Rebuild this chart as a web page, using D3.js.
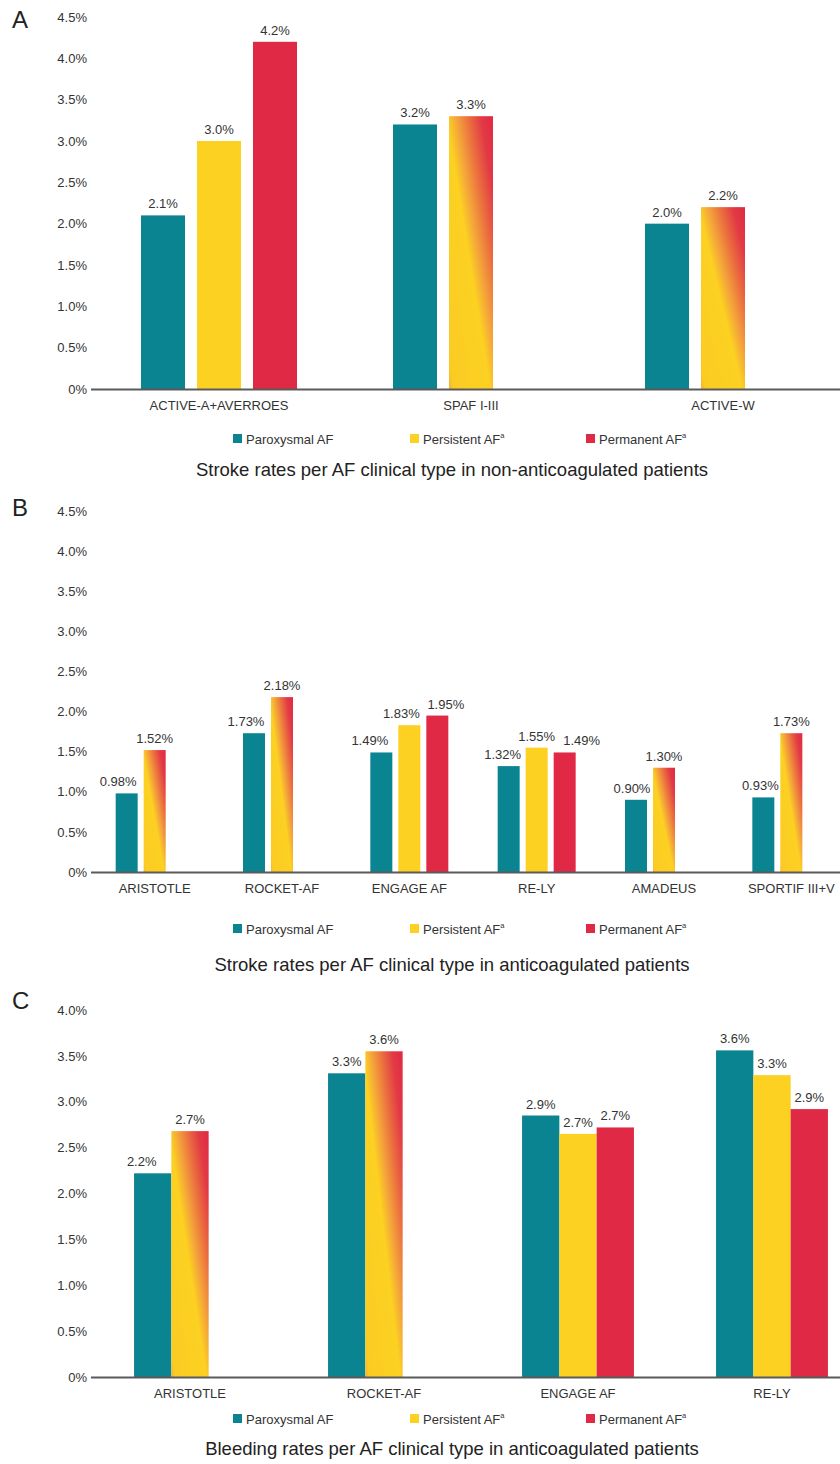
<!DOCTYPE html>
<html>
<head>
<meta charset="utf-8">
<script src="https://cdn.jsdelivr.net/npm/d3@7"></script>
<style>
  html, body { margin: 0; padding: 0; background: #fff; }
  svg { display: block; }
  text { font-family: "Liberation Sans", Arial, Helvetica, sans-serif; fill: #333; }
</style>
</head>
<body>
<svg id="chart" width="840" height="1464"></svg>
<script>
// ---------------- DATA ----------------
// Panel A: stroke rates, non-anticoagulated
const categoriesA = ["ACTIVE-A+AVERROES", "SPAF I-III", "ACTIVE-W"];
const paroxysmalA = [2.1, 3.2, 2.0];
const persistentA = [3.0, null, null];
const permanentA  = [4.2, null, null];
const combinedA   = [null, 3.3, 2.2];   // persistent + permanent (non-paroxysmal)
const ticksA = [0, 0.5, 1.0, 1.5, 2.0, 2.5, 3.0, 3.5, 4.0, 4.5];

// Panel B: stroke rates, anticoagulated
const categoriesB = ["ARISTOTLE", "ROCKET-AF", "ENGAGE AF", "RE-LY", "AMADEUS", "SPORTIF III+V"];
const paroxysmalB = [0.98, 1.73, 1.49, 1.32, 0.90, 0.93];
const persistentB = [null, null, 1.83, 1.55, null, null];
const permanentB  = [null, null, 1.95, 1.49, null, null];
const combinedB   = [1.52, 2.18, null, null, 1.30, 1.73];
const ticksB = [0, 0.5, 1.0, 1.5, 2.0, 2.5, 3.0, 3.5, 4.0, 4.5];

// Panel C: bleeding rates, anticoagulated
const categoriesC = ["ARISTOTLE", "ROCKET-AF", "ENGAGE AF", "RE-LY"];
const paroxysmalC = [2.22, 3.31, 2.85, 3.56];
const persistentC = [null, null, 2.65, 3.29];
const permanentC  = [null, null, 2.72, 2.92];
const combinedC   = [2.68, 3.55, null, null];
const paroxysmalLabelsC = ["2.2%", "3.3%", "2.9%", "3.6%"];
const persistentLabelsC = [null, null, "2.7%", "3.3%"];
const permanentLabelsC  = [null, null, "2.7%", "2.9%"];
const combinedLabelsC   = ["2.7%", "3.6%", null, null];
const ticksC = [0, 0.5, 1.0, 1.5, 2.0, 2.5, 3.0, 3.5, 4.0];

const legendNames = ["Paroxysmal AF", "Persistent AF", "Permanent AF"];
const titles = [
  "Stroke rates per AF clinical type in non-anticoagulated patients",
  "Stroke rates per AF clinical type in anticoagulated patients",
  "Bleeding rates per AF clinical type in anticoagulated patients"
];

// ---------------- STYLE / LAYOUT ----------------
const colors = { paroxysmal: "#0A8491", persistent: "#FCD122", permanent: "#E02944" };

const svg = d3.select("#chart");
const defs = svg.append("defs");
const grad = defs.append("linearGradient")
  .attr("id", "combo")
  .attr("x1", 0).attr("y1", 1).attr("x2", 1).attr("y2", 0);
[[0, "#F5AE33"], [0.05, "#FBCB24"], [0.47, "#FCD122"], [0.58, "#F4A53A"],
 [0.72, "#EB6E3F"], [0.86, "#E23A45"], [1, "#E02944"]]
  .forEach(([o, c]) => grad.append("stop").attr("offset", o).attr("stop-color", c));

const fmt1 = v => v.toFixed(1) + "%";
const fmt2 = v => v.toFixed(2) + "%";
const tickFmt = v => v === 0 ? "0%" : v.toFixed(1) + "%";

const panels = [
  {
    letter: "A", letterY: 28, y0: 389, yMax: 4.5, yTopPx: 17, xRange: [93, 849], bw: 44, gap: 12,
    cats: categoriesA, ticks: ticksA,
    series: {paroxysmal: paroxysmalA, persistent: persistentA, permanent: permanentA, combined: combinedA},
    labels: null, fmt: fmt1, shift: {},
    legendY: 439, titleY: 476
  },
  {
    letter: "B", letterY: 516, y0: 872, yMax: 4.5, yTopPx: 511, xRange: [91, 855], bw: 22, gap: 6,
    cats: categoriesB, ticks: ticksB,
    series: {paroxysmal: paroxysmalB, persistent: persistentB, permanent: permanentB, combined: combinedB},
    labels: null, fmt: fmt2,
    shift: {paroxysmal: [-8.5, -8, -11.5, -6, -4, -3], persistent: [0, 0, -8, 0, 0, 0], permanent: [0, 0, 8.5, 17, 0, 0]},
    legendY: 929, titleY: 971
  },
  {
    letter: "C", letterY: 1009, y0: 1377, yMax: 4.0, yTopPx: 1010, xRange: [93, 869], bw: 37.3, gap: 0,
    cats: categoriesC, ticks: ticksC,
    series: {paroxysmal: paroxysmalC, persistent: persistentC, permanent: permanentC, combined: combinedC},
    labels: {paroxysmal: paroxysmalLabelsC, persistent: persistentLabelsC, permanent: permanentLabelsC, combined: combinedLabelsC},
    fmt: fmt1, shift: {paroxysmal: [-11, 0, 0, 0]},
    legendY: 1419, titleY: 1455
  }
];

panels.forEach((p, pi) => {
  const g = svg.append("g");
  const y = d3.scaleLinear().domain([0, p.yMax]).range([p.y0, p.yTopPx]);
  const x = d3.scaleBand().domain(p.cats).range(p.xRange).paddingInner(0).paddingOuter(0);
  const groupW = 3 * p.bw + 2 * p.gap;
  const slot = d3.scaleBand().domain([0, 1, 2]).range([0, groupW])
    .paddingInner(p.gap / (p.bw + p.gap)).paddingOuter(0);

  // panel letter
  g.append("text").attr("x", 12).attr("y", p.letterY)
    .style("font-size", "24px").style("fill", "#222").text(p.letter);

  // y axis labels
  const axis = d3.axisLeft(y).tickValues(p.ticks).tickFormat(tickFmt).tickSize(0).tickPadding(6);
  const ag = g.append("g").attr("transform", "translate(93,0)").call(axis);
  ag.select(".domain").remove();
  ag.selectAll("text").style("font-size", "13px").style("fill", "#333")
    .style("font-family", "'Liberation Sans', Arial, sans-serif");

  // build bars
  const bars = [];
  p.cats.forEach((c, i) => {
    let k = 0;
    ["paroxysmal", "persistent", "permanent", "combined"].forEach(s => {
      const v = p.series[s][i];
      if (v === null || v === undefined) return;
      const gx = x(c) + (x.bandwidth() - groupW) / 2;
      const lbl = p.labels ? p.labels[s][i] : p.fmt(v);
      const dx = (p.shift[s] && p.shift[s][i]) || 0;
      bars.push({ cat: c, s, v, x: gx + slot(k), lbl, dx });
      k++;
    });
  });

  g.selectAll("rect.bar").data(bars).join("rect")
    .attr("class", "bar")
    .attr("x", d => d.x)
    .attr("y", d => y(d.v))
    .attr("width", slot.bandwidth())
    .attr("height", d => y(0) - y(d.v))
    .attr("fill", d => d.s === "combined" ? "url(#combo)" : colors[d.s]);

  g.selectAll("text.val").data(bars).join("text")
    .attr("class", "val")
    .attr("x", d => d.x + slot.bandwidth() / 2 + d.dx)
    .attr("y", d => y(d.v) - 7)
    .attr("text-anchor", "middle")
    .style("font-size", "13px")
    .text(d => d.lbl);

  // baseline
  g.append("line").attr("x1", 91).attr("x2", 840).attr("y1", y(0) + 0.5).attr("y2", y(0) + 0.5)
    .attr("stroke", "#5a5a5a").attr("stroke-width", 2);

  // category labels
  g.selectAll("text.cat").data(p.cats).join("text")
    .attr("class", "cat")
    .attr("x", d => x(d) + x.bandwidth() / 2)
    .attr("y", y(0) + 21)
    .attr("text-anchor", "middle")
    .style("font-size", "13px")
    .text(d => d);

  // legend
  const legX = [233, 410, 586];
  const legC = [colors.paroxysmal, colors.persistent, colors.permanent];
  legendNames.forEach((n, i) => {
    g.append("rect").attr("x", legX[i]).attr("y", p.legendY - 5).attr("width", 9).attr("height", 9)
      .attr("fill", legC[i]);
    const t = g.append("text").attr("x", legX[i] + 13).attr("y", p.legendY + 4.5)
      .style("font-size", "13px").text(n);
    if (i > 0) {
      t.append("tspan").attr("dy", -6).style("font-size", "7.5px").text("a");
    }
  });

  // title
  g.append("text").attr("x", 452).attr("y", p.titleY).attr("text-anchor", "middle")
    .style("font-size", "18.5px").style("fill", "#222").text(titles[pi]);
});
</script>
</body>
</html>
